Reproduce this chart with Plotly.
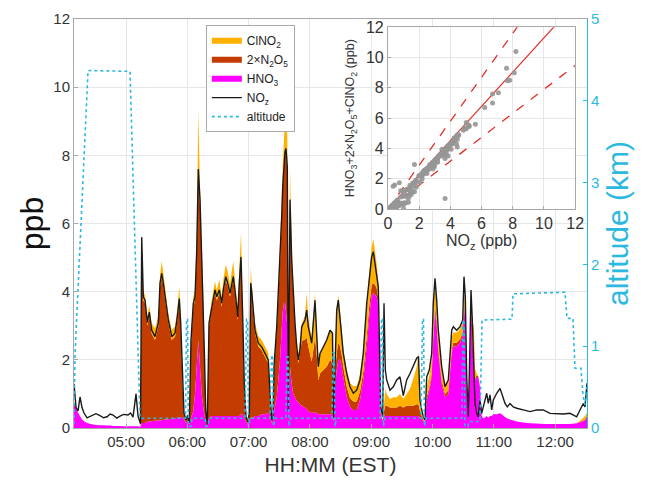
import plotly.graph_objects as go

DATE = "2015-03-07 "

# ---------------- time series ----------------
times = [
    # high-altitude transit
    "04:09:05", "04:11:04", "04:13:01", "04:14:59", "04:16:56", "04:18:53", "04:21:50", "04:27:42",
    "04:30:30", "04:34:33", "04:38:00", "04:41:24", "04:44:30", "04:47:17", "04:51:00", "04:54:08",
    "04:57:30", "05:01:58", "05:04:30", "05:06:51", "05:09:47", "05:11:45", "05:14:11",
    # leg 1
    "05:15:22", "05:16:56", "05:18:36", "05:20:51", "05:22:48", "05:25:09", "05:28:23", "05:31:37",
    "05:33:17", "05:34:57", "05:36:31", "05:39:09", "05:41:24", "05:44:44", "05:47:58", "05:50:13",
    "05:52:10", "05:53:32", "05:55:30", "05:56:46", "05:58:44", "06:00:23", "06:01:58",
    # leg 2
    "06:03:37", "06:05:52", "06:07:32", "06:09:12", "06:10:46", "06:12:26", "06:14:06", "06:15:40",
    "06:16:38", "06:18:01", "06:19:35",
    # leg 3
    "06:21:14", "06:23:53", "06:27:07", "06:28:47", "06:31:19", "06:33:40", "06:35:14", "06:37:35",
    "06:39:32", "06:41:48", "06:43:28", "06:45:01", "06:47:22", "06:49:20", "06:50:54", "06:52:34",
    "06:54:14", "06:55:47", "06:57:27", "06:59:07",
    # leg 4
    "07:00:41", "07:02:03", "07:03:02", "07:04:36", "07:06:16", "07:09:30", "07:12:49", "07:16:03",
    "07:19:17", "07:20:57", "07:22:37", "07:23:53",
    # leg 5
    "07:24:52", "07:27:31", "07:29:04", "07:30:44", "07:32:24", "07:33:23", "07:34:39", "07:35:38",
    "07:36:37", "07:37:53", "07:38:52", "07:39:50", "07:40:31", "07:42:11", "07:43:45", "07:45:25",
    "07:47:05", "07:48:39", "07:50:19",
    # leg 6
    "07:51:58", "07:55:13", "07:56:52", "07:58:26", "08:01:46", "08:04:59", "08:06:40", "08:08:13",
    "08:09:53", "08:13:07", "08:16:27", "08:19:41", "08:22:07", "08:23:06",
    # leg 7
    "08:24:34", "08:26:14", "08:27:48", "08:29:28", "08:31:08", "08:32:41", "08:36:01", "08:39:15",
    "08:42:29", "08:45:49", "08:49:02", "08:52:16", "08:55:36", "08:58:08", "09:00:29", "09:02:04",
    "09:03:43", "09:05:23", "09:06:57", "09:07:56", "09:09:18", "09:11:16", "09:12:32", "09:13:48",
    # leg 8
    "09:15:10", "09:18:24", "09:21:38", "09:24:58", "09:28:11", "09:31:25", "09:34:45", "09:37:59",
    "09:41:13", "09:44:32", "09:46:18", "09:47:46", "09:49:26", "09:51:00", "09:52:40",
    # leg 9
    "09:54:20", "09:56:52", "09:59:13", "10:00:47", "10:02:27", "10:04:07", "10:05:41", "10:09:00",
    "10:12:14", "10:15:28", "10:18:48", "10:20:22", "10:23:41", "10:26:55", "10:29:34", "10:30:50",
    "10:32:07", "10:33:29", "10:35:02", "10:36:43", "10:37:41", "10:38:58", "10:40:37", "10:41:36",
    "10:43:16", "10:44:50", "10:46:30", "10:48:10",
    # return transit
    "10:49:44", "10:53:03", "10:54:37", "10:56:17", "10:57:57", "10:59:31", "11:02:50", "11:06:04",
    "11:07:44", "11:10:58", "11:13:13", "11:15:52", "11:19:05", "11:22:25", "11:28:53", "11:35:26",
    "11:42:00", "11:48:27", "11:55:01", "12:01:34", "12:08:02", "12:14:35", "12:21:08", "12:24:23",
    "12:27:37", "12:29:16", "12:31:14",
]

noz = [
    1.30, 0.60, 0.50, 0.91, 0.60, 0.44, 0.30, 0.38, 0.42, 0.36, 0.30, 0.33, 0.41, 0.38, 0.29, 0.35,
    0.40, 0.38, 0.44, 0.32, 1.00, 0.35, 0.12,
    5.60, 3.85, 3.75, 3.10, 3.40, 2.87, 2.68, 3.08, 4.25, 4.54, 4.25, 3.66, 3.17, 2.68, 2.78, 3.26,
    3.80, 3.08, 1.30, 0.44, 0.23, 0.38, 0.15,
    2.58, 3.66, 3.85, 5.20, 7.60, 6.70, 5.20, 3.75, 2.29, 0.53, 0.10,
    3.08, 3.56, 4.05, 3.85, 4.05, 3.66, 4.05, 4.44, 4.25, 3.95, 4.25, 4.44, 3.85, 3.26, 4.25, 5.02,
    3.26, 1.30, 0.33, 0.18,
    0.44, 4.25, 4.00, 3.37, 2.87, 2.49, 2.38, 2.19, 2.00, 1.02, 0.23, 0.30,
    1.80, 2.97, 3.90, 4.93, 6.20, 7.08, 7.80, 8.10, 8.20, 7.66, 0.50, 4.50, 6.70, 4.93, 3.95, 3.07,
    2.38, 2.00, 2.29,
    2.97, 3.17, 3.46, 2.97, 2.49, 3.75, 2.87, 1.80, 2.19, 2.38, 2.58, 2.87, 2.78, 0.30,
    2.00, 3.46, 3.75, 3.20, 2.87, 2.19, 1.60, 1.21, 1.02, 1.11, 1.41, 2.19, 3.66, 4.44, 5.02, 5.17,
    4.83, 4.44, 4.14, 2.68, 0.62, 0.33, 3.66, 1.70,
    1.41, 1.11, 1.21, 1.41, 1.50, 0.95, 1.41, 1.60, 1.80, 2.05, 2.10, 0.82, 0.53, 0.33, 0.23,
    1.50, 1.70, 2.19, 3.66, 4.39, 3.75, 2.87, 1.80, 1.21, 1.41, 2.87, 2.97, 2.87, 2.97, 3.17, 4.44,
    3.85, 1.50, 0.33, 2.50, 4.05, 3.17, 1.70, 0.73, 0.43, 0.33, 0.82, 0.43,
    0.62, 1.02, 0.72, 0.97, 0.53, 0.82, 1.02, 1.16, 1.02, 0.72, 0.62, 0.72, 0.62, 0.58, 0.53, 0.48,
    0.53, 0.53, 0.43, 0.41, 0.41, 0.43, 0.33, 0.53, 0.72, 0.62, 1.31,
]

hno3 = [
    0.70, 0.60, 0.45, 0.35, 0.25, 0.20, 0.15, 0.10, 0.09, 0.08, 0.08, 0.07, 0.07, 0.06, 0.06, 0.06,
    0.05, 0.05, 0.05, 0.05, 0.05, 0.05, 0.03,
    0.15, 0.15, 0.15, 0.18, 0.20, 0.20, 0.22, 0.22, 0.22, 0.23, 0.24, 0.25, 0.26, 0.27, 0.28, 0.30,
    0.30, 0.32, 0.30, 0.25, 0.15, 0.20, 0.10,
    0.30, 0.50, 1.00, 1.80, 2.60, 1.80, 1.00, 0.60, 0.40, 0.20, 0.05,
    0.30, 0.35, 0.35, 0.35, 0.35, 0.35, 0.35, 0.35, 0.35, 0.35, 0.35, 0.35, 0.35, 0.35, 0.35, 0.40,
    0.40, 0.30, 0.20, 0.10,
    0.20, 0.30, 0.30, 0.30, 0.35, 0.35, 0.40, 0.40, 0.45, 0.40, 0.15, 0.20,
    0.50, 0.90, 1.40, 2.00, 2.90, 3.40, 3.70, 3.70, 3.40, 3.00, 0.30, 1.50, 1.80, 1.30, 1.00, 0.90,
    0.80, 0.75, 0.70,
    0.65, 0.60, 0.55, 0.50, 0.45, 0.45, 0.45, 0.40, 0.40, 0.40, 0.40, 0.40, 0.40, 0.20,
    1.20, 1.70, 2.00, 2.00, 1.80, 1.50, 0.92, 0.62, 0.53, 0.53, 0.82, 1.41, 2.38, 3.30, 3.90, 3.95,
    3.90, 3.85, 3.60, 2.30, 0.40, 0.20, 0.40, 0.35,
    0.35, 0.35, 0.35, 0.35, 0.35, 0.35, 0.35, 0.35, 0.35, 0.35, 0.35, 0.30, 0.25, 0.20, 0.10,
    0.80, 1.10, 1.50, 2.60, 3.40, 3.00, 2.20, 1.30, 0.90, 1.00, 2.20, 2.40, 2.40, 2.50, 2.70, 3.60,
    3.10, 1.20, 0.25, 2.00, 3.60, 2.80, 1.40, 1.40, 1.50, 1.50, 1.20, 0.35,
    0.28, 0.35, 0.30, 0.35, 0.35, 0.40, 0.40, 0.43, 0.40, 0.32, 0.28, 0.25, 0.22, 0.19, 0.16, 0.14,
    0.13, 0.12, 0.12, 0.12, 0.12, 0.12, 0.14, 0.16, 0.20, 0.23, 0.33,
]

n2o5_x2 = [
    0.00, 0.00, 0.00, 0.00, 0.00, 0.00, 0.00, 0.00, 0.00, 0.00, 0.00, 0.00, 0.00, 0.00, 0.00, 0.00,
    0.00, 0.00, 0.00, 0.00, 0.00, 0.00, 0.00,
    5.30, 3.60, 3.50, 2.82, 3.10, 2.57, 2.36, 2.76, 3.93, 4.21, 3.91, 3.31, 2.81, 2.31, 2.40, 2.86,
    3.40, 2.66, 0.90, 0.15, 0.05, 0.10, 0.03,
    2.15, 3.05, 2.75, 3.30, 4.80, 4.70, 4.05, 3.00, 1.75, 0.30, 0.04,
    2.68, 3.11, 3.60, 3.40, 3.60, 3.21, 3.60, 3.99, 3.80, 3.50, 3.80, 3.99, 3.40, 2.81, 3.80, 4.52,
    2.76, 0.90, 0.10, 0.05,
    0.20, 3.85, 3.60, 2.97, 2.42, 2.04, 1.88, 1.69, 1.45, 0.52, 0.05, 0.08,
    1.20, 1.97, 2.40, 2.83, 3.20, 3.58, 4.00, 4.30, 4.70, 4.56, 0.15, 2.90, 4.80, 3.53, 2.85, 2.07,
    1.48, 1.15, 1.49,
    1.90, 2.00, 2.10, 1.90, 1.50, 2.20, 1.70, 1.00, 1.20, 1.30, 1.40, 1.60, 1.50, 0.05,
    0.40, 0.50, 0.50, 0.40, 0.35, 0.30, 0.30, 0.25, 0.25, 0.25, 0.25, 0.25, 0.30, 0.30, 0.30, 0.30,
    0.30, 0.25, 0.20, 0.15, 0.05, 0.02, 0.10, 0.30,
    0.30, 0.25, 0.25, 0.25, 0.30, 0.25, 0.30, 0.30, 0.30, 0.35, 0.35, 0.20, 0.10, 0.05, 0.02,
    0.10, 0.10, 0.10, 0.15, 0.20, 0.15, 0.15, 0.10, 0.10, 0.10, 0.10, 0.10, 0.10, 0.10, 0.10, 0.10,
    0.10, 0.05, 0.02, 0.05, 0.05, 0.05, 0.05, 0.05, 0.05, 0.02, 0.02, 0.02,
    0.00, 0.00, 0.00, 0.00, 0.00, 0.00, 0.00, 0.00, 0.00, 0.00, 0.00, 0.00, 0.00, 0.00, 0.00, 0.00,
    0.00, 0.00, 0.00, 0.00, 0.00, 0.00, 0.00, 0.02, 0.02, 0.02, 0.02,
]

clno2 = [
    0.00, 0.00, 0.00, 0.00, 0.00, 0.00, 0.00, 0.00, 0.00, 0.00, 0.00, 0.00, 0.00, 0.00, 0.00, 0.00,
    0.00, 0.00, 0.00, 0.00, 0.00, 0.00, 0.00,
    0.15, 0.25, 0.25, 0.25, 0.30, 0.30, 0.35, 0.30, 0.35, 0.45, 0.40, 0.35, 0.30, 0.30, 0.30, 0.35,
    0.45, 0.30, 0.10, 0.02, 0.00, 0.00, 0.00,
    0.20, 0.30, 0.30, 0.40, 1.90, 0.50, 0.40, 0.30, 0.20, 0.03, 0.00,
    0.20, 0.30, 0.35, 0.30, 0.40, 0.30, 0.40, 0.45, 0.45, 0.35, 0.45, 0.55, 0.35, 0.35, 0.55, 0.80,
    0.35, 0.10, 0.00, 0.00,
    0.00, 0.55, 0.40, 0.35, 0.30, 0.30, 0.30, 0.30, 0.30, 0.15, 0.00, 0.00,
    0.20, 0.30, 0.40, 0.50, 0.60, 0.70, 0.80, 1.00, 2.30, 0.90, 0.00, 0.50, 1.00, 0.50, 0.40, 0.30,
    0.30, 0.30, 0.35,
    0.50, 0.70, 1.30, 0.80, 0.70, 1.30, 0.80, 0.50, 0.60, 0.70, 0.80, 0.90, 0.90, 0.00,
    0.60, 1.30, 1.40, 1.00, 0.80, 0.50, 0.50, 0.45, 0.45, 0.45, 0.50, 0.60, 0.90, 1.00, 1.10, 1.30,
    1.00, 0.70, 0.50, 0.30, 0.05, 0.00, 0.20, 0.50,
    0.35, 0.25, 0.30, 0.30, 0.35, 0.25, 0.35, 0.50, 0.80, 1.10, 1.50, 0.30, 0.10, 0.00, 0.00,
    0.30, 0.35, 0.40, 0.60, 0.70, 0.50, 0.45, 0.35, 0.30, 0.30, 0.35, 0.30, 0.30, 0.30, 0.30, 0.40,
    0.30, 0.20, 0.00, 0.30, 0.30, 0.30, 1.50, 0.30, 0.05, 0.00, 0.00, 0.00,
    0.00, 0.00, 0.00, 0.00, 0.00, 0.00, 0.00, 0.00, 0.00, 0.00, 0.00, 0.00, 0.00, 0.00, 0.00, 0.00,
    0.00, 0.00, 0.00, 0.00, 0.00, 0.00, 0.00, 0.03, 0.08, 0.10, 0.10,
]

# aircraft altitude (km)
alt_times = [
    "04:09:05", "04:10:05", "04:22:49", "05:03:55", "05:13:42", "05:58:14", "05:59:13", "06:00:12",
    "06:01:11", "06:03:37", "06:04:36", "06:17:20", "06:18:18", "06:20:16", "06:21:14", "06:56:29",
    "06:57:57", "06:58:55", "06:59:54", "07:01:22", "07:20:57", "07:22:25", "07:23:23", "07:24:22",
    "07:25:50", "07:36:37", "07:37:35", "07:38:34", "07:39:32", "07:41:01", "08:21:38", "08:22:37",
    "08:23:35", "08:24:34", "08:26:02", "09:08:37", "09:10:05", "09:11:04", "09:12:02", "09:13:31",
    "09:48:45", "09:50:13", "09:51:11", "09:52:10", "09:53:38", "10:28:53", "10:29:52", "10:30:50",
    "10:31:49", "10:34:45", "10:35:44", "10:46:30", "10:48:27", "11:17:49", "11:18:48", "12:09:41",
    "12:11:39", "12:17:31", "12:19:29", "12:25:21", "12:27:19", "12:29:16", "12:31:14",
]
alt_km = [
    0.05, 0.90, 4.37, 4.36, 0.12, 0.12, 1.33, 1.33,
    0.02, 0.02, 0.12, 0.12, 0.02, 0.02, 0.12, 0.12,
    1.33, 1.33, 0.02, 0.12, 0.12, 0.89, 0.89, 0.02,
    0.12, 0.12, 0.87, 0.87, 0.02, 0.12, 0.12, 0.92,
    0.92, 0.02, 0.12, 0.12, 1.34, 1.34, 0.02, 0.12,
    0.12, 1.33, 1.33, 0.02, 0.12, 0.12, 1.32, 1.32,
    0.02, 0.02, 0.08, 0.08, 1.32, 1.33, 1.64, 1.66,
    1.34, 1.34, 0.73, 0.73, 0.40, 0.28, 0.50,
]

# regression line and +/- bounds in the inset (slopes)
fit_slope = 1.13
upper_slope = 1.45
lower_slope = 0.79
fit_x = [0, 12]

hour_ticks = ["05:00", "06:00", "07:00", "08:00", "09:00", "10:00", "11:00", "12:00"]

# ---------------- colours ----------------
C_CLNO2 = "#FFB000"
C_N2O5 = "#C43C00"
C_HNO3 = "#FF00FF"
C_ALT = "#2CB9E0"
GRID = "#E6E6E6"
AXL = "#A8A8A8"
FONT = "Liberation Sans, Arial, Helvetica, sans-serif"

t = [DATE + s for s in times]
ta = [DATE + s for s in alt_times]
total = [h + n + c for h, n, c in zip(hno3, n2o5_x2, clno2)]

fig = go.Figure()

fig.add_trace(go.Scatter(x=t, y=hno3, stackgroup="nz", mode="none", fillcolor=C_HNO3,
                         name="HNO<sub>3</sub>", legendrank=3))
fig.add_trace(go.Scatter(x=t, y=n2o5_x2, stackgroup="nz", mode="none", fillcolor=C_N2O5,
                         name="2×N<sub>2</sub>O<sub>5</sub>", legendrank=2))
fig.add_trace(go.Scatter(x=t, y=clno2, stackgroup="nz", mode="none", fillcolor=C_CLNO2,
                         name="ClNO<sub>2</sub>", legendrank=1))
fig.add_trace(go.Scatter(x=t, y=noz, mode="lines", line=dict(color="#1A1A1A", width=1.4),
                         name="NO<sub>z</sub>", legendrank=4))
fig.add_trace(go.Scatter(x=ta, y=alt_km, yaxis="y2", mode="lines",
                         line=dict(color=C_ALT, width=1.6, dash="dot"),
                         name="altitude", legendrank=5))

# inset: fit lines below the scatter
fig.add_trace(go.Scatter(x=fit_x, y=[upper_slope * v for v in fit_x], xaxis="x3", yaxis="y3",
                         mode="lines", line=dict(color="#E0302A", width=1.3, dash="dash"),
                         showlegend=False))
fig.add_trace(go.Scatter(x=fit_x, y=[lower_slope * v for v in fit_x], xaxis="x3", yaxis="y3",
                         mode="lines", line=dict(color="#E0302A", width=1.3, dash="dash"),
                         showlegend=False))
fig.add_trace(go.Scatter(x=fit_x, y=[fit_slope * v for v in fit_x], xaxis="x3", yaxis="y3",
                         mode="lines", line=dict(color="#E0302A", width=1.2),
                         showlegend=False))
fig.add_trace(go.Scatter(x=noz, y=total, xaxis="x3", yaxis="y3", mode="markers",
                         marker=dict(color="#969696", size=5, opacity=0.9,
                                     line=dict(width=0)),
                         showlegend=False))

# the page adds an 8 px body margin, so the figure is 8 px smaller than the window
fig.update_layout(
    width=641, height=473,
    margin=dict(l=66, r=62, t=11, b=53, autoexpand=False),
    paper_bgcolor="white", plot_bgcolor="white",
    font=dict(family=FONT, color="#333333"),
    xaxis=dict(
        type="date", domain=[0, 1], automargin=False,
        range=[DATE + "04:09:05", DATE + "12:31:14"],
        tickvals=[DATE + h for h in hour_ticks], ticktext=hour_ticks,
        showgrid=True, gridcolor=GRID, zeroline=False,
        showline=True, linecolor=AXL, mirror=True,
        ticks="inside", ticklen=4, tickcolor=AXL,
        tickfont=dict(size=15, color="#333333"),
        title=dict(text="HH:MM (EST)", font=dict(size=21, color="#333333"), standoff=8),
    ),
    yaxis=dict(
        range=[0, 12], dtick=2, showgrid=True, gridcolor=GRID, zeroline=False, automargin=False,
        showline=True, linecolor=AXL, ticks="inside", ticklen=4, tickcolor=AXL,
        tickfont=dict(size=15, color="#333333"),
        title=dict(text="ppb", font=dict(size=32, color="#111111"), standoff=0),
    ),
    yaxis2=dict(
        overlaying="y", side="right", range=[0, 5], dtick=1, automargin=False,
        showgrid=False, zeroline=False, showline=True, linecolor=C_ALT,
        ticks="inside", ticklen=4, tickcolor=C_ALT,
        tickfont=dict(size=15, color=C_ALT),
        title=dict(text="altitude (km)", font=dict(size=30, color=C_ALT), standoff=8),
    ),
    xaxis3=dict(
        domain=[0.612, 0.977], anchor="y3", range=[0, 12], dtick=2, automargin=False,
        showgrid=True, gridcolor=GRID, zeroline=False,
        showline=True, linecolor=AXL, mirror=True, ticks="inside", ticklen=3, tickcolor=AXL,
        tickfont=dict(size=16, color="#333333"),
        title=dict(text="NO<sub>z</sub> (ppb)", font=dict(size=16, color="#333333"), standoff=2),
    ),
    yaxis3=dict(
        domain=[0.535, 0.98], anchor="x3", range=[0, 12], dtick=2, automargin=False,
        showgrid=True, gridcolor=GRID, zeroline=False,
        showline=True, linecolor=AXL, mirror=True, ticks="inside", ticklen=3, tickcolor=AXL,
        tickfont=dict(size=16, color="#333333"),
        title=dict(text="HNO<sub>3</sub>+2×N<sub>2</sub>O<sub>5</sub>+ClNO<sub>2</sub> (ppb)",
                   font=dict(size=12.5, color="#333333"), standoff=8),
    ),
    legend=dict(
        x=0.257, y=0.985, xanchor="left", yanchor="top", traceorder="normal",
        bgcolor="white", bordercolor="#AAAAAA", borderwidth=1,
        font=dict(size=12, color="#222222"), tracegroupgap=0, itemwidth=30,
    ),
    showlegend=True,
)

fig.write_html("out.html")
